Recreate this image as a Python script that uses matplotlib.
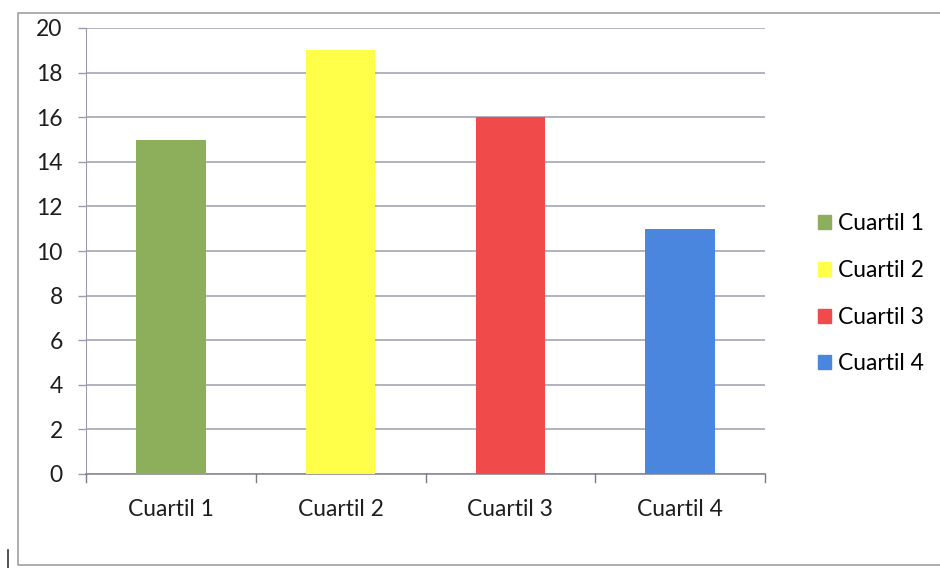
import matplotlib
matplotlib.use('Agg')

import matplotlib.pyplot as plt
from matplotlib.patches import Rectangle
from matplotlib.lines import Line2D

# ======================== Data ========================
CATEGORIES = ["Cuartil 1", "Cuartil 2", "Cuartil 3", "Cuartil 4"]
VALUES = [15, 19, 16, 11]
COLORS = ["#8DAE5B", "#FFFF4A", "#F04A4A", "#4A86DE"]
Y_TICKS = [0, 2, 4, 6, 8, 10, 12, 14, 16, 18, 20]

# ======================== Style ========================
FONT = ["Lato", "DejaVu Sans"]
FONT_SIZE = 16.5
TEXT_COLOR = "#1e1e1e"
GRID_COLOR = "#9C9CB0"
FIG_SIZE = (9.4, 5.68)
DPI = 100

plt.rcParams['font.family'] = FONT

fig = plt.figure(figsize=FIG_SIZE, dpi=DPI)
W, H = 940, 568

# Plot area in pixel coordinates
left, right, top, bottom = 86, 765, 28, 474
ax = fig.add_axes([left / W, 1 - bottom / H, (right - left) / W, (bottom - top) / H])

x = range(len(CATEGORIES))
ax.bar(x, VALUES, width=0.41, color=COLORS, zorder=3)

ax.set_xlim(-0.5, len(CATEGORIES) - 0.5)
ax.set_ylim(0, 20)
ax.set_yticks(Y_TICKS)
ax.set_yticklabels([str(t) for t in Y_TICKS], fontsize=FONT_SIZE, color=TEXT_COLOR)
ax.set_xticks(list(x))
ax.set_xticklabels(CATEGORIES, fontsize=FONT_SIZE, color=TEXT_COLOR)
ax.tick_params(axis='x', length=0, pad=18)
ax.tick_params(axis='y', length=5.8, width=1, color=GRID_COLOR, pad=11)

# Category boundary ticks below the x axis
for b in [i - 0.5 for i in range(len(CATEGORIES) + 1)]:
    ax.plot([b, b], [0, -0.35], color="#7a7a8a", lw=1, clip_on=False, zorder=4)

ax.grid(axis='y', color=GRID_COLOR, lw=1.1, zorder=0)
for side in ['top', 'right']:
    ax.spines[side].set_visible(False)
ax.spines['left'].set_color(GRID_COLOR)
ax.spines['bottom'].set_color("#8a8a9c")
ax.spines['bottom'].set_linewidth(1.2)

# Legend on the right
handles = [Rectangle((0, 0), 1, 1, color=c) for c in COLORS]
fig.legend(handles, CATEGORIES, loc='center left', bbox_to_anchor=(807 / W, 1 - 294 / H),
           frameon=False, fontsize=FONT_SIZE, handlelength=0.55, handleheight=0.55,
           handletextpad=0.3, labelspacing=1.12, borderpad=0)

# Chart area frame
frame = Line2D([940 / W, 18 / W, 18 / W, 940 / W],
               [1 - 13 / H, 1 - 13 / H, 1 - 565 / H, 1 - 565 / H],
               transform=fig.transFigure, color="#a0a0a0", lw=1.2)
fig.add_artist(frame)
fig.add_artist(Line2D([8 / W, 8 / W], [0, 1 - 550 / H], transform=fig.transFigure,
                      color="#333333", lw=1.2))

fig.savefig("out.png", dpi=DPI)
